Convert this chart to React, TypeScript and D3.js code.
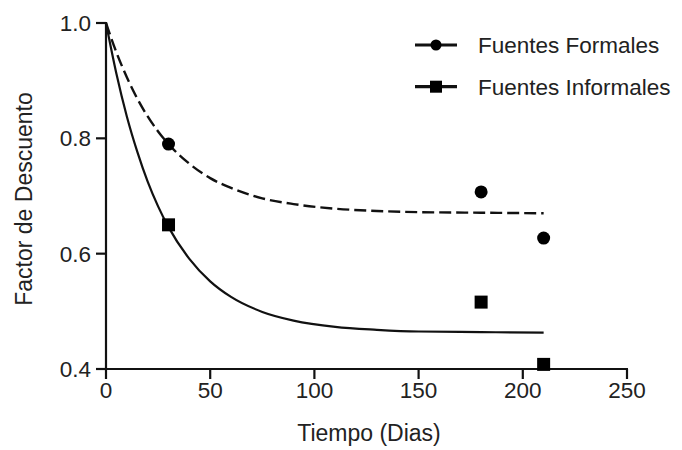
import React from "react";
import * as d3 from "d3";

const formalX = [30, 180, 210];
const formalY = [0.79, 0.707, 0.627];
const informalX = [30, 180, 210];
const informalY = [0.65, 0.516, 0.408];

const fitX = [0, 5, 10, 15, 20, 25, 30, 40, 50, 60, 75, 90, 110, 130, 150, 180, 210];
const formalFitY = [1.0, 0.949, 0.906, 0.869, 0.838, 0.812, 0.79, 0.756, 0.731, 0.714, 0.696, 0.686, 0.678, 0.674, 0.672, 0.671, 0.67];
const informalFitY = [1.0, 0.912, 0.838, 0.777, 0.725, 0.682, 0.646, 0.591, 0.552, 0.525, 0.499, 0.484, 0.473, 0.468, 0.465, 0.464, 0.463];

const xTicks = [0, 50, 100, 150, 200, 250];
const yTicks = [0.4, 0.6, 0.8, 1.0];
const legendLabels = ["Fuentes Formales", "Fuentes Informales"];
const xTitle = "Tiempo (Dias)";
const yTitle = "Factor de Descuento";

export default function App() {
  const W = 682, H = 450;
  const x = d3.scaleLinear().domain([0, 250]).range([106, 627]);
  const y = d3.scaleLinear().domain([0.4, 1.0]).range([369, 23]);
  const line = d3
    .line<[number, number]>()
    .x((d) => x(d[0]))
    .y((d) => y(d[1]))
    .curve(d3.curveMonotoneX);
  const formalFit = line(fitX.map((v, i) => [v, formalFitY[i]] as [number, number])) || "";
  const informalFit = line(fitX.map((v, i) => [v, informalFitY[i]] as [number, number])) || "";
  const font = "'Liberation Sans', Arial, sans-serif";
  const col = "#111";
  const tcol = "#222";
  const ms = 13;
  return (
    <svg width={W} height={H} style={{ position: "absolute", left: 0, top: 0, background: "#fff" }} fontFamily={font}>
      {/* axes */}
      <line x1={x(0)} x2={x(0)} y1={y(1.0) - 1} y2={y(0.4) + 1} stroke={col} strokeWidth={2.2} />
      <line x1={x(0) - 1} x2={x(250) + 1} y1={y(0.4)} y2={y(0.4)} stroke={col} strokeWidth={2.2} />
      {yTicks.map((t) => (
        <g key={"y" + t}>
          <line x1={x(0) - 10} x2={x(0)} y1={y(t)} y2={y(t)} stroke={col} strokeWidth={2.2} />
          <text x={x(0) - 15} y={y(t)} dy="0.36em" textAnchor="end" fontSize={22.5} fill={tcol}>
            {d3.format(".1f")(t)}
          </text>
        </g>
      ))}
      {xTicks.map((t) => (
        <g key={"x" + t}>
          <line x1={x(t)} x2={x(t)} y1={y(0.4)} y2={y(0.4) + 10} stroke={col} strokeWidth={2.2} />
          <text x={x(t)} y={398} textAnchor="middle" fontSize={22.5} fill={tcol}>
            {t}
          </text>
        </g>
      ))}
      <text x={369} y={441} textAnchor="middle" fontSize={23} fill={tcol}>
        {xTitle}
      </text>
      <text transform={`translate(32,199) rotate(-90)`} textAnchor="middle" fontSize={23} fill={tcol}>
        {yTitle}
      </text>
      {/* fits */}
      <path d={formalFit} fill="none" stroke={col} strokeWidth={2.4} strokeDasharray="12,5" />
      <path d={informalFit} fill="none" stroke={col} strokeWidth={2.2} />
      {/* points */}
      {formalX.map((v, i) => (
        <circle key={"f" + i} cx={x(v)} cy={y(formalY[i])} r={ms / 2} fill="#000" />
      ))}
      {informalX.map((v, i) => (
        <rect key={"i" + i} x={x(v) - ms / 2} y={y(informalY[i]) - ms / 2} width={ms} height={ms} fill="#000" />
      ))}
      {/* legend */}
      {legendLabels.map((lab, i) => {
        const ly = 45 + i * 41.7;
        return (
          <g key={lab}>
            <line x1={415} x2={457} y1={ly} y2={ly} stroke={col} strokeWidth={3.2} />
            {i === 0 ? (
              <circle cx={436} cy={ly} r={5.5} fill="#000" />
            ) : (
              <rect x={430} y={ly - 6} width={12} height={12} fill="#000" />
            )}
            <text x={478} y={ly} dy="0.36em" fontSize={22.5} fill={tcol}>
              {lab}
            </text>
          </g>
        );
      })}
    </svg>
  );
}
